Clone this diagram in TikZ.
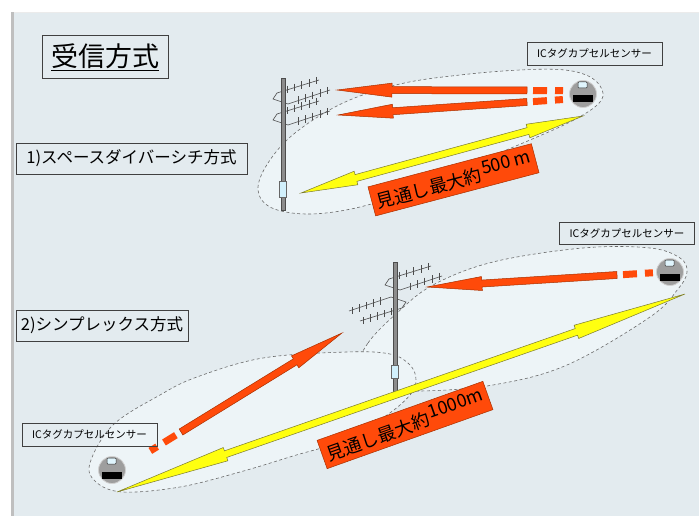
\documentclass[tikz,border=0pt]{standalone}
\usepackage{fontspec}
\newfontfamily\jp{Noto Sans CJK JP}
\usetikzlibrary{calc}

\definecolor{slide}{HTML}{E3EBEF}
\definecolor{lobe}{HTML}{EDF4F7}
\definecolor{sigred}{HTML}{FF4A0A}
\definecolor{sigredline}{HTML}{A83000}
\definecolor{beam}{HTML}{FFFF10}
\definecolor{beamline}{HTML}{7A7A30}
\definecolor{lobeline}{HTML}{6A6A6A}

\tikzset{
  lblbox/.style={draw=black!75, line width=0.6pt, inner sep=0pt, font=\jp},
  lobepath/.style={fill=lobe, draw=lobeline, line width=0.6pt, dash pattern=on 3pt off 2.5pt},
  yagiline/.style={draw=black!70, line width=0.6pt},
  mastbar/.style={fill=black!45, draw=black!70, line width=0.4pt},
  feedbox/.style={fill=cyan!18, draw=black!60, line width=0.5pt},
  redtag/.style={fill=sigred, draw=sigredline, line width=0.5pt, inner sep=0pt, font=\jp\fontsize{18pt}{20pt}\selectfont}
}

% signal arrow: tail (#1,#2), tip (#3,#4), head length #5, with two dashes behind the tail
\newcommand{\sigarrow}[5]{%
  \pgfmathsetmacro\sgang{atan2(#2-#4,#3-#1)}%
  \pgfmathsetmacro\sglen{veclen(#3-#1,#4-#2)}%
  \begin{scope}[shift={(#1,#2)},rotate=\sgang]
    \filldraw[fill=sigred, draw=sigredline, line width=0.5pt]
      (0,3.5) -- (\sglen-#5,3.5) -- (\sglen-#5,7) -- (\sglen,0)
      -- (\sglen-#5,-7) -- (\sglen-#5,-3.5) -- (0,-3.5) -- cycle;
    \fill[sigred] (-20,3.5) rectangle (-6,-3.5);
    \fill[sigred] (-36,3.5) rectangle (-28,-3.5);
  \end{scope}}

% two-headed range arrow between tips (#1,#2) and (#3,#4), head length #5
\newcommand{\beamarrow}[5]{%
  \pgfmathsetmacro\bmang{atan2(#2-#4,#3-#1)}%
  \pgfmathsetmacro\bmlen{veclen(#3-#1,#4-#2)}%
  \begin{scope}[shift={(#1,#2)},rotate=\bmang]
    \filldraw[fill=beam, draw=beamline, line width=0.5pt]
      (0,0) -- (#5,7) -- (#5,3.5) -- (\bmlen-#5,3.5) -- (\bmlen-#5,7) -- (\bmlen,0)
      -- (\bmlen-#5,-7) -- (\bmlen-#5,-3.5) -- (#5,-3.5) -- (#5,-7) -- cycle;
  \end{scope}}

% stacked Yagi element pair, origin at the front end of the upper boom
\newcommand{\yagi}[3]{%
  \begin{scope}[shift={(#1,#2)},rotate=#3,yagiline]
    \draw (0,0) -- (42,-13);
    \draw (11,11) -- (53,-3);
    \draw (0,0) -- (-4,6) -- (11,11);
    \foreach \t in {0.25,0.42,0.59,0.76,0.93} {
      \draw ({42*\t},{-13*\t-4}) -- ({42*\t},{-13*\t+3.5});
      \draw ({11+42*\t},{11-14*\t-4}) -- ({11+42*\t},{11-14*\t+3.5});
    }
  \end{scope}}

% capsule sensor seen from above
\newcommand{\sensor}[3]{%
  \node[circle, fill=black!38, draw=black!18, line width=0.8pt, minimum size=27pt, inner sep=0pt] (#1) at (#2,#3) {};
  \filldraw[fill=cyan!12, draw=black!80, line width=0.5pt, rounded corners=0.8pt] (#2-5,#3-12) rectangle (#2+4,#3-6);
  \fill[black] (#2-10,#3+1.5) rectangle (#2+10,#3+8.5);}

\begin{document}
\begin{tikzpicture}[x=1pt,y=-1pt]
  \useasboundingbox (0,0) rectangle (699,516);
  % page and slide
  \fill[white] (0,0) rectangle (699,516);
  \fill[black!25] (11,12) rectangle (15,516);
  \fill[black!8] (14,12) rectangle (699,13);
  \fill[slide] (14,13) rectangle (699,516);

  % coverage zones
  \path[lobepath] plot[smooth cycle, tension=0.6] coordinates {
    (258,190) (268,163) (295,133) (343,103) (400,84) (460,75) (520,70) (565,70)
    (592,78) (603,93) (596,106) (570,122) (530,140) (470,165) (410,190)
    (360,207) (310,214) (272,208)};
  \path[lobepath] plot[smooth cycle, tension=0.6] coordinates {
    (356,372) (368,343) (397,313) (433,285) (493,262) (583,248) (650,248)
    (680,258) (687,272) (678,289) (650,317) (567,365) (493,385) (420,391) (372,387)};
  \path[lobepath] plot[smooth cycle, tension=0.6] coordinates {
    (90,463) (113,425) (160,395) (197,377) (263,358) (347,352) (390,354)
    (410,365) (416,380) (410,395) (387,415) (345,440) (293,456) (240,472)
    (180,487) (123,492) (96,482)};

  % receiving antenna, space diversity
  \yagi{277}{93}{0}
  \yagi{277}{114}{0}
  \filldraw[mastbar] (281.5,78) rectangle (285,210);
  \filldraw[feedbox] (279.5,181) rectangle (286.5,197);

  % receiving antenna, simplex
  \yagi{389}{279}{0}
  \yagi{402}{308}{180}
  \filldraw[mastbar] (393.5,262) rectangle (397,395);
  \filldraw[feedbox] (391.5,365) rectangle (398.5,378);

  % range arrows
  \beamarrow{301}{193}{583}{116}{57}
  \beamarrow{117}{492}{685}{294}{115}

  % tag transmissions
  \sigarrow{527}{90.5}{337}{90}{55}
  \sigarrow{527}{102}{338}{115}{55}
  \sigarrow{617}{275}{427}{287}{55}
  \sigarrow{181}{432}{342}{333}{55}

  % range tags
  \node[redtag, minimum width=169pt, minimum height=30pt, rotate=14.8] (range1) at (453.5,179.8)
    {見通し最大約\hspace{1.5pt}\raisebox{6pt}{500\,m}};
  \node[redtag, minimum width=176pt, minimum height=30pt, rotate=19.6] (range2) at (405,425)
    {見通し最大約\hspace{1.5pt}\raisebox{6pt}{1000m}};

  % sensors
  \sensor{tagA}{583}{94}
  \sensor{tagB}{670}{272}
  \sensor{tagC}{112}{470}

  % captions
  \node[lblbox, minimum width=126pt, minimum height=43pt, font=\jp\fontsize{27pt}{30pt}\selectfont] (title) at (105,57) {\underline{受信方式}};
  \node[lblbox, minimum width=231pt, minimum height=31pt, font=\jp\fontsize{16.5pt}{18pt}\selectfont] (mode1) at (131.5,158.5) {1)スペースダイバーシチ方式};
  \node[lblbox, minimum width=172pt, minimum height=31pt, font=\jp\fontsize{16.5pt}{18pt}\selectfont] (mode2) at (102,325.5) {2)シンプレックス方式};
  \node[lblbox, minimum width=135pt, minimum height=23pt, font=\jp\fontsize{10.5pt}{12pt}\selectfont] (capA) at (594.5,53.5) {ICタグカプセルセンサー};
  \node[lblbox, minimum width=135pt, minimum height=22pt, font=\jp\fontsize{10.5pt}{12pt}\selectfont] (capB) at (627,233) {ICタグカプセルセンサー};
  \node[lblbox, minimum width=135pt, minimum height=23pt, font=\jp\fontsize{10.5pt}{12pt}\selectfont] (capC) at (89.5,434.5) {ICタグカプセルセンサー};
\end{tikzpicture}
\end{document}
